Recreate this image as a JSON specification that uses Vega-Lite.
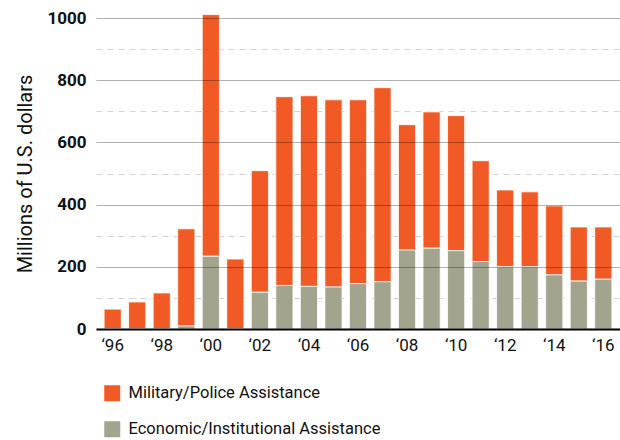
{
  "$schema": "https://vega.github.io/schema/vega-lite/v6.json",
  "autosize": {"type": "none"},
  "padding": {"left": 96, "top": 18, "right": 0, "bottom": 111},
  "width": 524,
  "height": 311,
  "config": {
    "view": {"stroke": null},
    "font": "Roboto, sans-serif"
  },
  "data": {"values": [
    {"year": "1996", "type": "Military/Police Assistance", "value": 64},
    {"year": "1996", "type": "Economic/Institutional Assistance", "value": 0},
    {"year": "1997", "type": "Military/Police Assistance", "value": 87},
    {"year": "1997", "type": "Economic/Institutional Assistance", "value": 0},
    {"year": "1998", "type": "Military/Police Assistance", "value": 116},
    {"year": "1998", "type": "Economic/Institutional Assistance", "value": 0},
    {"year": "1999", "type": "Military/Police Assistance", "value": 312},
    {"year": "1999", "type": "Economic/Institutional Assistance", "value": 10},
    {"year": "2000", "type": "Military/Police Assistance", "value": 777},
    {"year": "2000", "type": "Economic/Institutional Assistance", "value": 234},
    {"year": "2001", "type": "Military/Police Assistance", "value": 225},
    {"year": "2001", "type": "Economic/Institutional Assistance", "value": 0},
    {"year": "2002", "type": "Military/Police Assistance", "value": 391},
    {"year": "2002", "type": "Economic/Institutional Assistance", "value": 118},
    {"year": "2003", "type": "Military/Police Assistance", "value": 607},
    {"year": "2003", "type": "Economic/Institutional Assistance", "value": 140},
    {"year": "2004", "type": "Military/Police Assistance", "value": 613},
    {"year": "2004", "type": "Economic/Institutional Assistance", "value": 137},
    {"year": "2005", "type": "Military/Police Assistance", "value": 602},
    {"year": "2005", "type": "Economic/Institutional Assistance", "value": 135},
    {"year": "2006", "type": "Military/Police Assistance", "value": 591},
    {"year": "2006", "type": "Economic/Institutional Assistance", "value": 146},
    {"year": "2007", "type": "Military/Police Assistance", "value": 624},
    {"year": "2007", "type": "Economic/Institutional Assistance", "value": 152},
    {"year": "2008", "type": "Military/Police Assistance", "value": 403},
    {"year": "2008", "type": "Economic/Institutional Assistance", "value": 254},
    {"year": "2009", "type": "Military/Police Assistance", "value": 438},
    {"year": "2009", "type": "Economic/Institutional Assistance", "value": 260},
    {"year": "2010", "type": "Military/Police Assistance", "value": 434},
    {"year": "2010", "type": "Economic/Institutional Assistance", "value": 252},
    {"year": "2011", "type": "Military/Police Assistance", "value": 324},
    {"year": "2011", "type": "Economic/Institutional Assistance", "value": 217},
    {"year": "2012", "type": "Military/Police Assistance", "value": 247},
    {"year": "2012", "type": "Economic/Institutional Assistance", "value": 200},
    {"year": "2013", "type": "Military/Police Assistance", "value": 241},
    {"year": "2013", "type": "Economic/Institutional Assistance", "value": 200},
    {"year": "2014", "type": "Military/Police Assistance", "value": 222},
    {"year": "2014", "type": "Economic/Institutional Assistance", "value": 174},
    {"year": "2015", "type": "Military/Police Assistance", "value": 174},
    {"year": "2015", "type": "Economic/Institutional Assistance", "value": 154},
    {"year": "2016", "type": "Military/Police Assistance", "value": 168},
    {"year": "2016", "type": "Economic/Institutional Assistance", "value": 160}
  ]},
  "encoding": {
    "x": {
      "field": "year", "type": "ordinal",
      "scale": {"paddingInner": 0.3, "paddingOuter": 0.33},
      "axis": {
        "title": null, "labelAngle": 0, "ticks": false,
        "domainColor": "#000", "domainWidth": 2,
        "labelFontSize": 17, "labelColor": "#111", "labelPadding": 8,
        "labelExpr": "toNumber(datum.value) % 2 == 0 ? '\u2018' + slice(datum.value, 2) : ''",
        "zindex": 2
      }
    },
    "color": {
      "field": "type", "type": "nominal",
      "scale": {
        "domain": ["Military/Police Assistance", "Economic/Institutional Assistance"],
        "range": ["#F15A24", "#A3A48E"]
      },
      "legend": {
        "title": null, "orient": "none", "legendX": 8, "legendY": 367,
        "symbolType": "square", "symbolSize": 256, "symbolStrokeWidth": 0,
        "labelFontSize": 16.5, "labelColor": "#111", "labelOffset": 8, "labelLimit": 0,
        "rowPadding": 19
      }
    },
    "order": {"field": "type", "sort": "ascending"}
  },
  "layer": [
    {
      "mark": {"type": "bar", "stroke": "#fff", "strokeWidth": 0.8},
      "encoding": {
        "y": {
          "field": "value", "type": "quantitative", "stack": "zero",
          "scale": {"domain": [0, 1000], "nice": false},
          "axis": {
            "orient": "left", "grid": true,
            "values": [100, 300, 500, 700, 900],
            "labels": false, "ticks": false, "domain": false, "title": null,
            "gridColor": "#d4d4d4", "gridDash": [6, 5], "gridWidth": 1, "zindex": 0
          }
        }
      }
    },
    {
      "mark": {"type": "bar", "opacity": 0},
      "encoding": {
        "y": {
          "field": "value", "type": "quantitative", "stack": "zero",
          "scale": {"domain": [0, 1000], "nice": false},
          "axis": {
            "orient": "left", "grid": true, "format": "d",
            "values": [0, 200, 400, 600, 800, 1000],
            "ticks": false, "domain": false,
            "title": "Millions of U.S. dollars", "titleFontSize": 20, "titleFontWeight": "normal",
            "titleColor": "#111", "titlePadding": 11,
            "labelFontSize": 17, "labelFontWeight": "bold", "labelColor": "#111", "labelPadding": 10,
            "gridColor": "#000", "gridOpacity": 0.3, "gridWidth": 1, "zindex": 1
          }
        }
      }
    }
  ],
  "resolve": {"axis": {"y": "independent"}}
}
